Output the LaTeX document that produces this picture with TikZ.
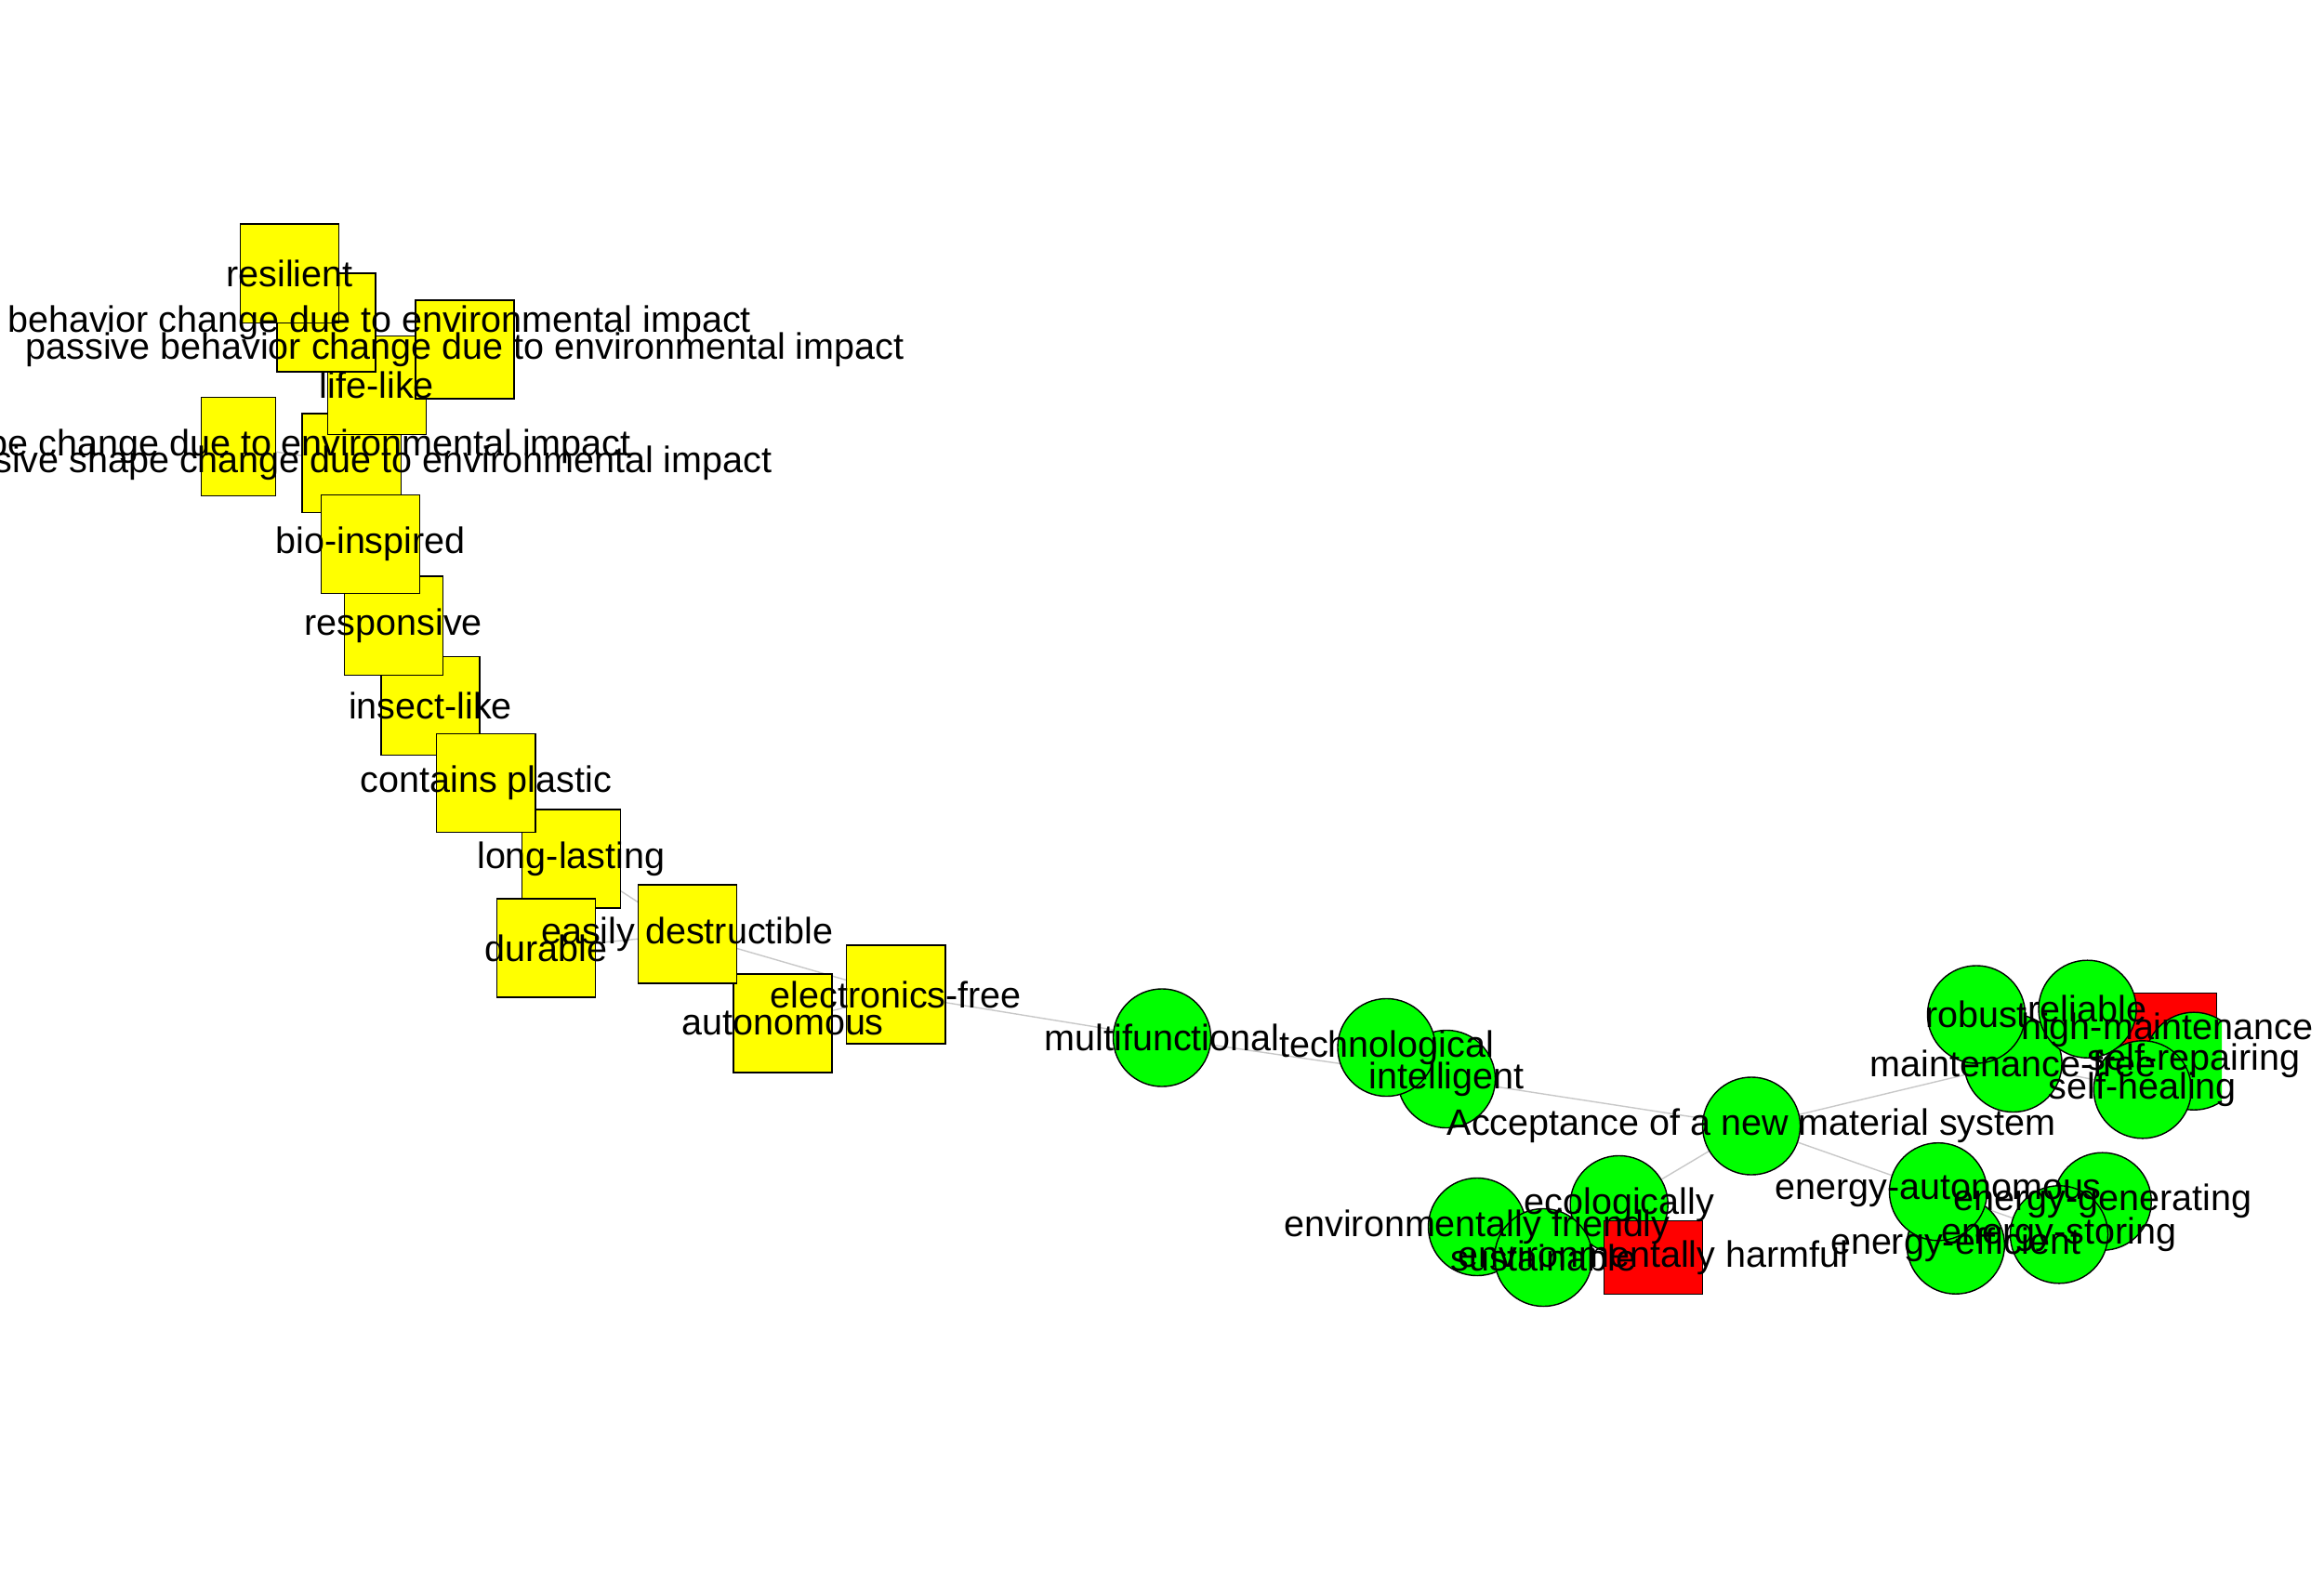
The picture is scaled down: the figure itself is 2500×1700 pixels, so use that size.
\documentclass[tikz,border=0pt]{standalone}
\usepackage{fontspec}
\setmainfont{Liberation Sans}
\definecolor{ngreen}{RGB}{0,255,0}
\definecolor{nyellow}{RGB}{255,255,0}
\definecolor{nred}{RGB}{255,0,0}
\definecolor{edgegray}{RGB}{200,200,200}
\tikzset{
  ybox/.style={rectangle, draw=black, line width=0.4pt, fill=nyellow, minimum width=1.06cm, minimum height=1.06cm, inner sep=0pt},
  rbox/.style={rectangle, draw=black, line width=0.4pt, fill=nred, minimum width=1.06cm, minimum height=0.79cm, inner sep=0pt},
  gcirc/.style={circle, draw=black, line width=0.4pt, fill=ngreen, minimum size=1.05cm, inner sep=0pt},
  lbl/.style={inner sep=0pt, text=black, font=\fontsize{11.24}{13}\selectfont},
  edgeline/.style={draw=edgegray, line width=0.4pt}
}
\begin{document}
\begin{tikzpicture}[x=0.01cm,y=-0.01cm]
\useasboundingbox (0,0) rectangle (2500,1700);
% vertex positions
\coordinate (pshape) at (378.2,498.2);
\coordinate (lifelike) at (405.3,414.5);
\coordinate (abehav) at (351,347);
\coordinate (resilient) at (311.5,294.2);
\coordinate (pbehav) at (500,376);
\coordinate (ashape) at (256.7,480.3);
\coordinate (longlasting) at (614.3,924);
\coordinate (durable) at (587.3,1020);
\coordinate (insect) at (463,759.5);
\coordinate (responsive) at (423.3,673.2);
\coordinate (bio) at (398.5,585.3);
\coordinate (plastic) at (522.8,842.5);
\coordinate (autonomous) at (842,1101);
\coordinate (destructible) at (739.3,1005);
\coordinate (efree) at (963.8,1070);
\coordinate (intelligent) at (1556,1161);
\coordinate (technological) at (1491.5,1127);
\coordinate (multi) at (1250,1116.5);
\coordinate (accept) at (1884,1211.5);
\coordinate (envfriendly) at (1589,1320);
\coordinate (ecolog) at (1741.7,1296);
\coordinate (sustainable) at (1660.3,1353);
\coordinate (harmful) at (1778.5,1352.8);
\coordinate (mfree) at (2165.5,1144);
\coordinate (robust) at (2126,1091.5);
\coordinate (highmaint) at (2331.3,1107.8);
\coordinate (reliable) at (2245.5,1085.7);
\coordinate (selfrep) at (2360,1141.7);
\coordinate (selfheal) at (2304.8,1172.3);
\coordinate (eefficient) at (2103.8,1339.7);
\coordinate (eauto) at (2085,1282.2);
\coordinate (egen) at (2261.7,1292.7);
\coordinate (estoring) at (2215,1328.3);
% edges (behind the vertices)
\draw[edgeline] (ashape) -- (pshape);
\draw[edgeline] (longlasting) -- (destructible);
\draw[edgeline] (durable) -- (destructible);
\draw[edgeline] (destructible) -- (efree);
\draw[edgeline] (autonomous) -- (efree);
\draw[edgeline] (efree) -- (multi);
\draw[edgeline] (multi) -- (intelligent);
\draw[edgeline] (intelligent) -- (accept);
\draw[edgeline] (accept) -- (mfree);
\draw[edgeline] (accept) -- (eauto);
\draw[edgeline] (accept) -- (ecolog);
\draw[edgeline] (mfree) -- (selfheal);
\draw[edgeline] (eauto) -- (estoring);
% yellow vertices
\node[ybox] (v-pshape) at (pshape) {};
\node[ybox] (v-lifelike) at (lifelike) {};
\node[ybox] (v-abehav) at (abehav) {};
\node[ybox] (v-resilient) at (resilient) {};
\node[ybox] (v-pbehav) at (pbehav) {};
\node[ybox, minimum width=0.8cm] (v-ashape) at (ashape) {};
\node[ybox] (v-longlasting) at (longlasting) {};
\node[ybox] (v-durable) at (durable) {};
\node[ybox] (v-insect) at (insect) {};
\node[ybox] (v-responsive) at (responsive) {};
\node[ybox] (v-bio) at (bio) {};
\node[ybox] (v-plastic) at (plastic) {};
\node[ybox] (v-autonomous) at (autonomous) {};
\node[ybox] (v-destructible) at (destructible) {};
\node[ybox] (v-efree) at (efree) {};
% green and red vertices
\node[gcirc] (v-intelligent) at (intelligent) {};
\node[gcirc] (v-technological) at (technological) {};
\node[gcirc] (v-multi) at (multi) {};
\node[gcirc] (v-accept) at (accept) {};
\node[gcirc] (v-envfriendly) at (envfriendly) {};
\node[gcirc] (v-ecolog) at (ecolog) {};
\node[gcirc] (v-sustainable) at (sustainable) {};
\node[rbox] (v-harmful) at (harmful) {};
\node[gcirc] (v-mfree) at (mfree) {};
\node[gcirc] (v-robust) at (robust) {};
\node[rbox] (v-highmaint) at (highmaint) {};
\node[gcirc] (v-reliable) at (reliable) {};
\begin{scope}
\clip (0,0) rectangle (2390,1700);
\node[gcirc] (v-selfrep) at (selfrep) {};
\end{scope}
\node[gcirc] (v-selfheal) at (selfheal) {};
\node[gcirc] (v-eefficient) at (eefficient) {};
\node[gcirc] (v-eauto) at (eauto) {};
\node[gcirc] (v-egen) at (egen) {};
\node[gcirc] (v-estoring) at (estoring) {};
% labels
\node[lbl] (t-pshape) at (380,498.2) {passive shape change due to environmental impact};
\node[lbl] (t-lifelike) at (lifelike) {life-like};
\node[lbl] (t-abehav) at (abehav) {active behavior change due to environmental impact};
\node[lbl] (t-resilient) at (resilient) {resilient};
\node[lbl] (t-pbehav) at (pbehav) {passive behavior change due to environmental impact};
\node[lbl] (t-ashape) at (243.7,480.3) {active shape change due to environmental impact};
\node[lbl] (t-longlasting) at (longlasting) {long-lasting};
\node[lbl] (t-durable) at (durable) {durable};
\node[lbl] (t-insect) at (insect) {insect-like};
\node[lbl] (t-responsive) at (responsive) {responsive};
\node[lbl] (t-bio) at (bio) {bio-inspired};
\node[lbl] (t-plastic) at (plastic) {contains plastic};
\node[lbl] (t-autonomous) at (autonomous) {autonomous};
\node[lbl] (t-destructible) at (destructible) {easily destructible};
\node[lbl] (t-efree) at (efree) {electronics-free};
\node[lbl] (t-intelligent) at (intelligent) {intelligent};
\node[lbl] (t-technological) at (technological) {technological};
\node[lbl] (t-multi) at (multi) {multifunctional};
\node[lbl] (t-accept) at (accept) {Acceptance of a new material system};
\node[lbl] (t-envfriendly) at (envfriendly) {environmentally friendly};
\node[lbl] (t-ecolog) at (ecolog) {ecologically};
\node[lbl] (t-sustainable) at (sustainable) {sustainable};
\node[lbl] (t-harmful) at (harmful) {environmentally harmful};
\node[lbl] (t-mfree) at (mfree) {maintenance-free};
\node[lbl] (t-robust) at (robust) {robust};
\node[lbl] (t-highmaint) at (highmaint) {high-maintenance};
\node[lbl] (t-reliable) at (reliable) {reliable};
\node[lbl] (t-selfrep) at (selfrep) {self-repairing};
\node[lbl] (t-selfheal) at (selfheal) {self-healing};
\node[lbl] (t-eefficient) at (eefficient) {energy-efficient};
\node[lbl] (t-eauto) at (eauto) {energy-autonomous};
\node[lbl] (t-egen) at (egen) {energy-generating};
\node[lbl] (t-estoring) at (estoring) {energy-storing};
\end{tikzpicture}
\end{document}
